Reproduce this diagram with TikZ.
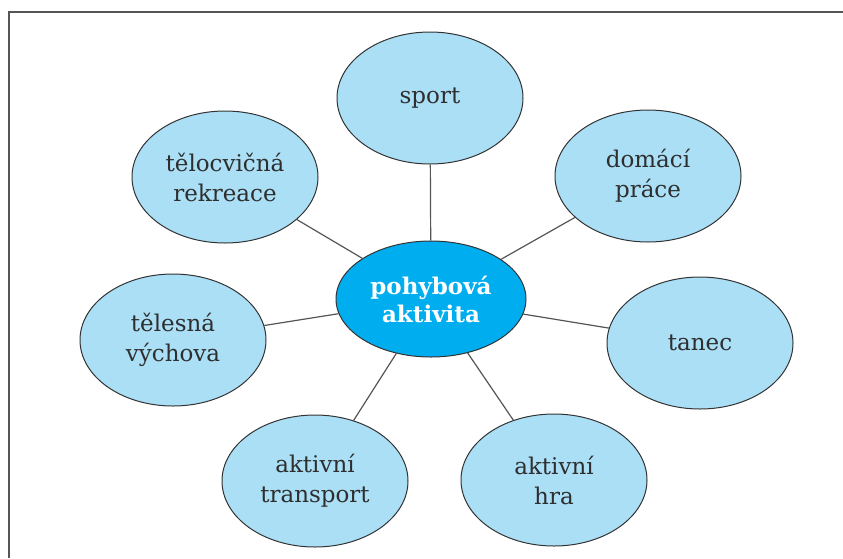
\documentclass[tikz,border=0pt]{standalone}
\usepackage{fontspec}
\setmainfont{DejaVu Serif}
\usetikzlibrary{shapes.geometric}
\definecolor{bubble}{HTML}{AADFF6}
\definecolor{hub}{HTML}{00AEEF}
\definecolor{edge}{HTML}{333333}
\definecolor{ink}{HTML}{2E2E2E}
\definecolor{frame}{HTML}{555555}
\definecolor{linkc}{HTML}{555555}
\tikzset{
  leaf/.style={ellipse, draw=edge, line width=1pt, fill=bubble, minimum width=186pt, minimum height=132pt, inner sep=0pt, align=center, text=ink, font=\fontsize{23}{30}\selectfont},
  hubnode/.style={ellipse, draw=edge, line width=1pt, fill=hub, minimum width=190pt, minimum height=116pt, inner sep=0pt, align=center, text=white, font=\fontsize{23}{28}\selectfont\bfseries},
  link/.style={draw=linkc, line width=1.2pt},
  border/.style={draw=frame, line width=1.5pt}
}
\begin{document}
\begin{tikzpicture}[x=1pt,y=-1pt]
\useasboundingbox (0,0) rectangle (843,558);
\coordinate (f1) at (843,12);
\coordinate (f2) at (9,12);
\coordinate (f3) at (9,558);
\draw[border] (f1) -- (f2) -- (f3);
\node[hubnode] (c) at (431,299) {pohybová\\aktivita};
\node[leaf] (sport) at (430,98) {sport};
\node[leaf] (dom) at (648,176) {domácí\\práce};
\node[leaf] (tan) at (700,343) {tanec};
\node[leaf] (hra) at (554,480) {aktivní\\hra};
\node[leaf] (tra) at (315,481) {aktivní\\transport};
\node[leaf] (tel) at (173,340) {tělesná\\výchova};
\node[leaf] (rek) at (225,177) {tělocvičná\\rekreace};
\foreach \n in {sport,dom,tan,hra,tra,tel,rek} {\draw[link] (c) -- (\n);}
\end{tikzpicture}
\end{document}
